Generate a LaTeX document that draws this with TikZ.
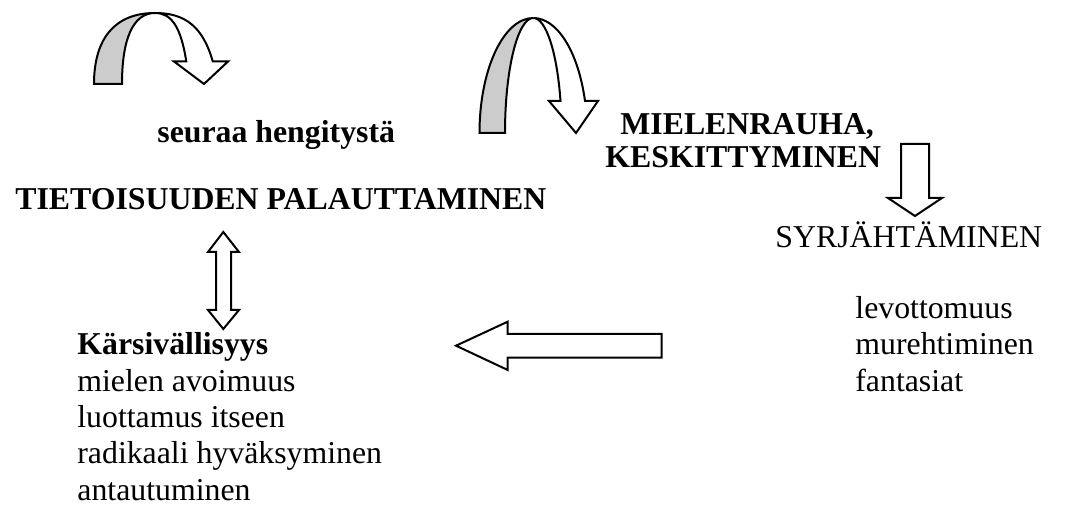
\documentclass[tikz,border=0pt]{standalone}
\usepackage{fontspec}
\setmainfont{Liberation Serif}
\definecolor{backgray}{RGB}{204,204,204}
\begin{document}
\begin{tikzpicture}[x=0.5pt,y=-0.5pt,
  blockarrow/.style={draw=black, line width=1pt, fill=white, line join=miter},
  backface/.style={draw=black, line width=1pt, fill=backgray, line join=miter},
  txt/.style={inner sep=0pt, anchor=base west, font=\fontsize{15.9}{18}\selectfont},
  btxt/.style={txt, font=\fontsize{15.9}{18}\selectfont\bfseries}]
\useasboundingbox (0,0) rectangle (1066,506);

% curved arrow, upper left
\path[backface] (94,84) .. controls (94,37.9) and (115.4,13) .. (155,13)
  .. controls (133.5,13) and (122,37.9) .. (122,84) -- cycle;
\path[blockarrow] (155,13) .. controls (185.9,13) and (203,27.4) .. (212.8,61.5)
  -- (228,61.5) -- (204,84) -- (174,61.5) -- (186.3,61.5)
  .. controls (181,27.4) and (171.7,13) .. (155,13) -- cycle;

% curved arrow, centre
\path[backface] (479.5,133) .. controls (479.5,69.5) and (503.6,18) .. (533.3,18)
  .. controls (517.7,18) and (505,69.5) .. (505,133) -- cycle;
\path[blockarrow] (533.3,18) .. controls (557.3,18) and (578.3,51.8) .. (585,101)
  -- (598,101) -- (576,133) -- (549,101) -- (560.5,101)
  .. controls (557,51.8) and (545.9,18) .. (533.3,18) -- cycle;

% straight down arrow
\path[blockarrow] (901,144) -- (929,144) -- (929,198) -- (942,198) -- (915,216)
  -- (888,198) -- (901,198) -- cycle;

% vertical double arrow
\path[blockarrow] (223.3,232) -- (239,252) -- (231,252) -- (231,310) -- (239,310)
  -- (223.3,329) -- (208,310) -- (216,310) -- (216,252) -- (208,252) -- cycle;

% left arrow
\path[blockarrow] (456,345.7) -- (507.7,321.7) -- (507.7,334) -- (661.7,334)
  -- (661.7,357.7) -- (507.7,357.7) -- (507.7,370) -- cycle;

% labels
\node[btxt] (breath) at (157,143) {seuraa hengitystä};
\node[btxt] (aware) at (15,210) {TIETOISUUDEN PALAUTTAMINEN};
\node[btxt] (peace) at (620,135) {MIELENRAUHA,};
\node[btxt] (focus) at (605,168) {KESKITTYMINEN};
\node[txt] (drift) at (775,248) {SYRJÄHTÄMINEN};

\node[txt] (restless) at (855,318.5) {levottomuus};
\node[txt] (brood) at (855,355) {murehtiminen};
\node[txt] (fantasy) at (855,391.3) {fantasiat};

\node[btxt] (patience) at (77,355) {Kärsivällisyys};
\node[txt] (open) at (77,391.3) {mielen avoimuus};
\node[txt] (trust) at (77,427.6) {luottamus itseen};
\node[txt] (accept) at (77,463.9) {radikaali hyväksyminen};
\node[txt] (surrender) at (77,500.2) {antautuminen};
\end{tikzpicture}
\end{document}
